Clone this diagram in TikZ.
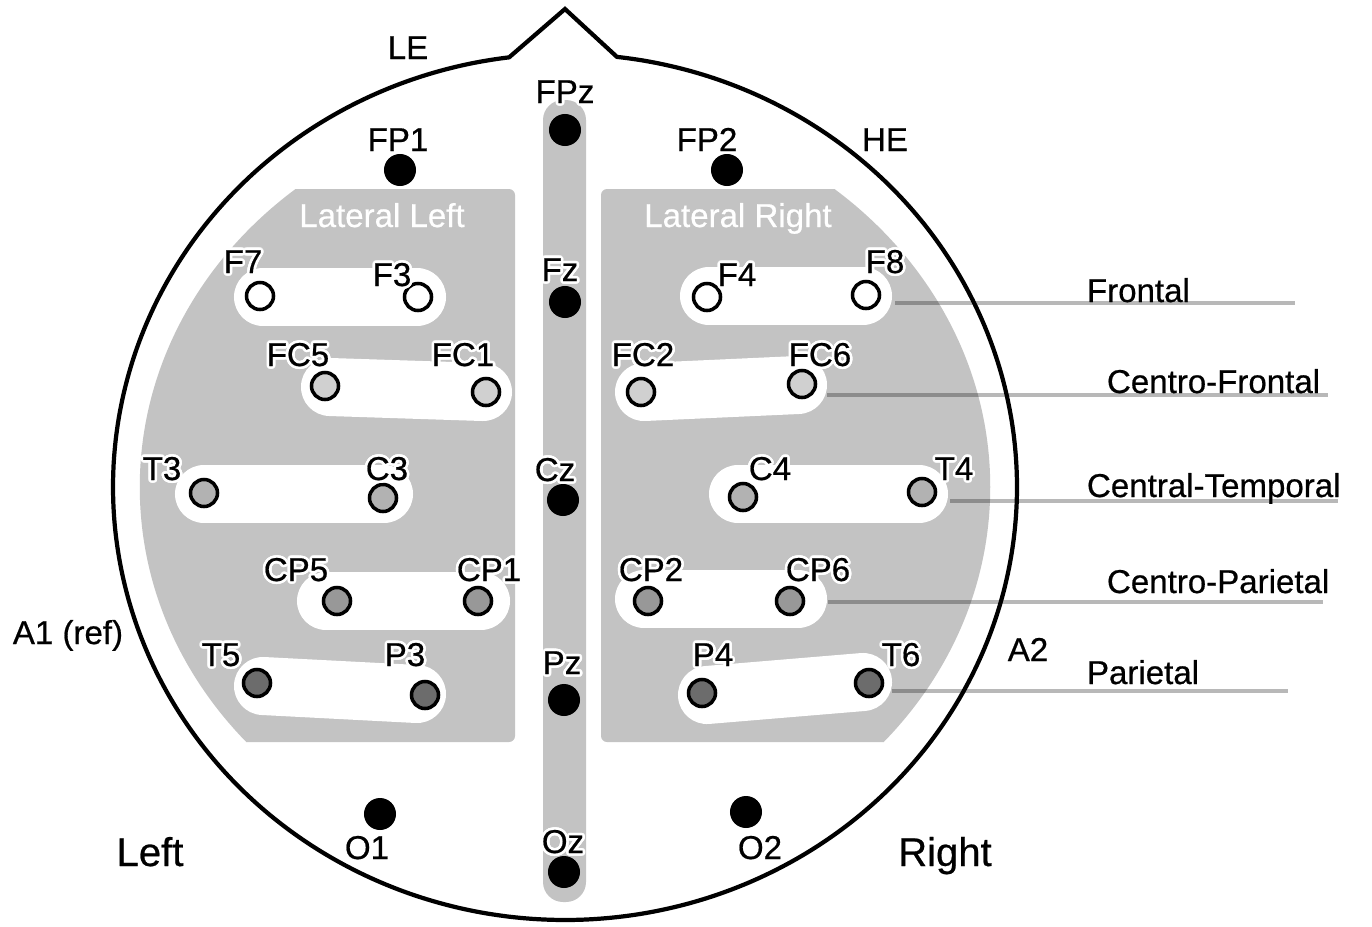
\documentclass[tikz,border=0pt]{standalone}
\usepackage{fontspec}
\setmainfont{Liberation Sans}[FakeBold=0.6]
\usepackage[copies]{contour}
\contourlength{0.75pt}
\contournumber{16}
\definecolor{regiongray}{RGB}{195,195,195}
\definecolor{fcgray}{RGB}{208,208,208}
\definecolor{ctgray}{RGB}{178,178,178}
\definecolor{cpgray}{RGB}{152,152,152}
\definecolor{pgray}{RGB}{108,108,108}
\newcommand{\elab}[4]{\node[lab] (#1) at (#2,#3) {\contour{white}{#4}};}
\tikzset{
  every node/.style={font=\fontsize{9.4}{11}\selectfont, inner sep=0pt, outer sep=0pt},
  lab/.style={anchor=base},
  biglab/.style={anchor=base, font=\fontsize{11.4}{13}\selectfont},
  reglab/.style={anchor=base west},
  elec/.style={circle, draw=black, line width=1pt, minimum size=0.27cm},
  dot/.style={circle, fill=black, minimum size=0.32cm},
  barshape/.style={draw=white, line width=0.58cm, line cap=round},
  regline/.style={draw=black, opacity=0.28, line width=1.1pt},
  headline/.style={draw=black, line width=1.2pt, line join=miter},
}
\begin{document}
\begin{tikzpicture}[x=0.01cm, y=-0.01cm]
\useasboundingbox (0,0) rectangle (1372,927);
% lateral gray regions
\begin{scope}
  \clip (565,487) ellipse [x radius=4.25cm, y radius=3.85cm];
  \fill[regiongray, rounded corners=0.06cm] (100,189) rectangle (515,742);
  \fill[regiongray, rounded corners=0.06cm] (601,189) rectangle (1030,742);
\end{scope}
% central strip
\fill[regiongray, rounded corners=0.2cm] (543,100) rectangle (586,902);
% white bars
\coordinate (bF1) at (263,297); \coordinate (bF2) at (417,297);
\coordinate (bFC1) at (330,387); \coordinate (bFC2) at (483,392);
\coordinate (bT1) at (204,494); \coordinate (bT2) at (384,494);
\coordinate (bCP1) at (326,601); \coordinate (bCP2) at (481,601);
\coordinate (bP1) at (263,686); \coordinate (bP2) at (417,694);
\coordinate (cF1) at (709,296); \coordinate (cF2) at (863,296);
\coordinate (cFC1) at (644,392); \coordinate (cFC2) at (798,385);
\coordinate (cT1) at (738,494); \coordinate (cT2) at (919,494);
\coordinate (cCP1) at (644,599); \coordinate (cCP2) at (798,599);
\coordinate (cP1) at (707,695); \coordinate (cP2) at (863,682);
\foreach \a/\b in {bF1/bF2,bFC1/bFC2,bT1/bT2,bCP1/bCP2,bP1/bP2,cF1/cF2,cFC1/cFC2,cT1/cT2,cCP1/cCP2,cP1/cP2}
  \draw[barshape] (\a) -- (\b);
% region lines
\coordinate (lF1) at (895,303); \coordinate (lF2) at (1295,303);
\coordinate (lFC1) at (827,395); \coordinate (lFC2) at (1328,395);
\coordinate (lT1) at (950,501); \coordinate (lT2) at (1338,501);
\coordinate (lCP1) at (828,602); \coordinate (lCP2) at (1323,602);
\coordinate (lP1) at (892,691); \coordinate (lP2) at (1288,691);
\foreach \a/\b in {lF1/lF2,lFC1/lFC2,lT1/lT2,lCP1/lCP2,lP1/lP2}
  \draw[regline] (\a) -- (\b);
% head outline with nose
\draw[headline] plot[domain=83.4:-262.9, samples=300, smooth] ({565+452*cos(\x)},{487-433*sin(\x)}) -- (565,9) -- cycle;
% electrodes
\node[elec, fill=white] (F7) at (260,296) {};
\node[elec, fill=white] (F3) at (418,297) {};
\node[elec, fill=white] (F4) at (707,297) {};
\node[elec, fill=white] (F8) at (866,295) {};
\node[elec, fill=fcgray] (FC5) at (325,386) {};
\node[elec, fill=fcgray] (FC1) at (486,392) {};
\node[elec, fill=fcgray] (FC2) at (641,392) {};
\node[elec, fill=fcgray] (FC6) at (802,384) {};
\node[elec, fill=ctgray] (T3) at (204,493) {};
\node[elec, fill=ctgray] (C3) at (383,498) {};
\node[elec, fill=ctgray] (C4) at (743,497) {};
\node[elec, fill=ctgray] (T4) at (922,492) {};
\node[elec, fill=cpgray] (CP5) at (337,601) {};
\node[elec, fill=cpgray] (CP1) at (478,601) {};
\node[elec, fill=cpgray] (CP2) at (648,601) {};
\node[elec, fill=cpgray] (CP6) at (790,601) {};
\node[elec, fill=pgray] (T5) at (257,683) {};
\node[elec, fill=pgray] (P3) at (425,695) {};
\node[elec, fill=pgray] (P4) at (702,693) {};
\node[elec, fill=pgray] (T6) at (869,683) {};
\node[dot] (FP1) at (400,170) {};
\node[dot] (FP2) at (727,170) {};
\node[dot] (FPz) at (565,130) {};
\node[dot] (Fz) at (565,302) {};
\node[dot] (Cz) at (563,500) {};
\node[dot] (Pz) at (564,700) {};
\node[dot] (Oz) at (564,872) {};
\node[dot] (O1) at (380,814) {};
\node[dot] (O2) at (746,812) {};
% electrode labels
\elab{lF7}{243}{273}{F7}
\elab{lF3}{392}{286}{F3}
\elab{lFC5}{298}{366}{FC5}
\elab{lFC1}{463}{366}{FC1}
\elab{lT3}{162}{480}{T3}
\elab{lC3}{387}{480}{C3}
\elab{lCP5}{296}{581}{CP5}
\elab{lCP1}{489}{581}{CP1}
\elab{lT5}{221}{666}{T5}
\elab{lP3}{405}{666}{P3}
\elab{lF4}{737}{286}{F4}
\elab{lF8}{885}{273}{F8}
\elab{lFC2}{643}{366}{FC2}
\elab{lFC6}{820}{366}{FC6}
\elab{lC4}{770}{480}{C4}
\elab{lT4}{954}{480}{T4}
\elab{lCP2}{651}{581}{CP2}
\elab{lCP6}{818}{581}{CP6}
\elab{lP4}{713}{666}{P4}
\elab{lT6}{901}{666}{T6}
\elab{lFP1}{398}{151}{FP1}
\elab{lFP2}{707}{151}{FP2}
\elab{lFPz}{565}{103}{FPz}
\elab{lFz}{560}{281}{Fz}
\elab{lCz}{555}{481}{Cz}
\elab{lPz}{562}{674}{Pz}
\elab{lOz}{563}{853}{Oz}
\elab{lO1}{367}{859}{O1}
\elab{lO2}{760}{859}{O2}
% other labels
\node[lab] (LE) at (408,59) {LE};
\node[lab] (HE) at (885,151) {HE};
\node[lab] (A1) at (68,644) {A1 (ref)};
\node[lab] (A2) at (1028,661) {A2};
\node[biglab] (Left) at (150,866) {Left};
\node[biglab] (Right) at (945,866) {Right};
\node[lab, text=white] (LL) at (382,227) {Lateral Left};
\node[lab, text=white] (LR) at (738,227) {Lateral Right};
% region labels
\node[reglab] (rF) at (1087,302) {Frontal};
\node[reglab] (rFC) at (1107,393) {Centro-Frontal};
\node[reglab] (rCT) at (1087,497) {Central-Temporal};
\node[reglab] (rCP) at (1107,593) {Centro-Parietal};
\node[reglab] (rP) at (1087,684) {Parietal};
\end{tikzpicture}
\end{document}
